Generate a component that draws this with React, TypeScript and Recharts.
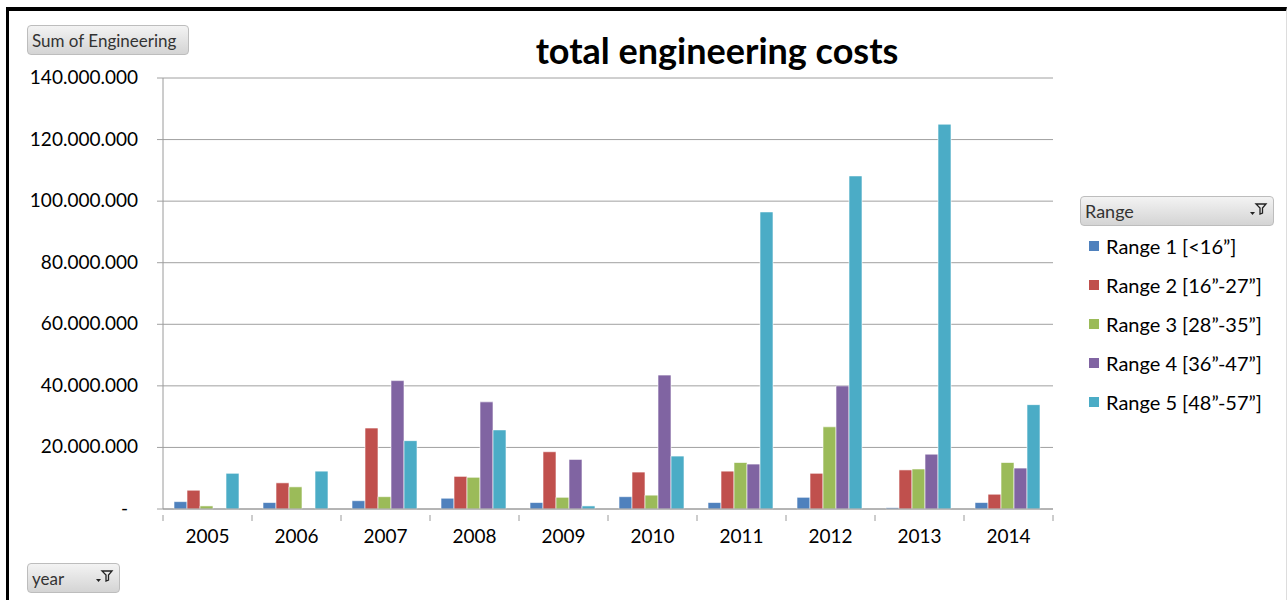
import React from 'react';
import { BarChart, Bar, XAxis, YAxis, CartesianGrid } from 'recharts';

const years = ['2005', '2006', '2007', '2008', '2009', '2010', '2011', '2012', '2013', '2014'];

const range1 = [2.4, 2.1, 2.7, 3.5, 2.1, 4.0, 2.1, 3.8, 0.4, 2.1];
const range2 = [6.1, 8.5, 26.3, 10.6, 18.6, 12.0, 12.3, 11.6, 12.7, 4.8];
const range3 = [1.0, 7.2, 4.0, 10.3, 3.8, 4.5, 15.1, 26.7, 13.0, 15.1];
const range4 = [0, 0, 41.7, 34.8, 16.1, 43.5, 14.6, 40.0, 17.8, 13.3];
const range5 = [11.6, 12.3, 22.2, 25.7, 1.0, 17.2, 96.5, 108.2, 125.0, 33.9];

const seriesNames = ['Range 1 [<16”]', 'Range 2 [16”-27”]', 'Range 3 [28”-35”]', 'Range 4 [36”-47”]', 'Range 5 [48”-57”]'];
const seriesColors = ['#4F81BD', '#C0504D', '#9BBB59', '#8064A2', '#4BACC6'];
const yTicks = [0, 20000000, 40000000, 60000000, 80000000, 100000000, 120000000, 140000000];

const seriesValues = [range1, range2, range3, range4, range5];

const data = years.map((year, i) => {
  const row: Record<string, string | number> = { year };
  seriesValues.forEach((vals, s) => {
    row['r' + s] = Math.round(vals[i] * 1000000);
  });
  return row;
});

const FONT = 'Lato, "Open Sans", sans-serif';

const fmt = (v: number) => {
  const s = String(Math.round(v));
  return s.replace(/\B(?=(\d{3})+(?!\d))/g, '.');
};

const YTick = (props: any) => {
  const { x, y, payload } = props;
  const isZero = payload.value === 0;
  return (
    <text x={isZero ? x - 10 : x} y={y} dy={6} textAnchor="end" fontSize={19} fill="#000" fontFamily={FONT}>
      {isZero ? '-' : fmt(payload.value)}
    </text>
  );
};

const XTick = (props: any) => {
  const { x, y, payload, index, width, visibleTicksCount } = props;
  const half = width && visibleTicksCount ? width / visibleTicksCount / 2 : 44.5;
  const base = y - 18;
  return (
    <g>
      <line x1={x - half} x2={x - half} y1={base} y2={base + 6} stroke="#9a9a9a" />
      {index === visibleTicksCount - 1 && (
        <line x1={x + half} x2={x + half} y1={base} y2={base + 6} stroke="#9a9a9a" />
      )}
      <text x={x} y={y} dy={10} textAnchor="middle" fontSize={19} fill="#000" fontFamily={FONT}>
        {payload.value}
      </text>
    </g>
  );
};

const buttonStyle: React.CSSProperties = {
  position: 'absolute',
  boxSizing: 'border-box',
  background: 'linear-gradient(#f3f3f3, #d4d4d4)',
  border: '1px solid #bdbdbd',
  borderRadius: 4,
  fontFamily: FONT,
  fontSize: 17,
  color: '#333',
  paddingLeft: 4,
  display: 'flex',
  alignItems: 'center',
};

const FilterIcon = () => (
  <svg width="18" height="14" style={{ position: 'absolute', right: 5, top: 6 }}>
    <path d="M0 9 L5 9 L2.5 12 Z" fill="#222" />
    <path d="M6 1 L16 1 L12.5 5 L12.5 10 L10 11 L10 5 Z" fill="none" stroke="#222" strokeWidth="1.3" />
  </svg>
);

export default function App() {
  return (
    <div style={{ position: 'absolute', left: 0, top: 0, width: 1288, height: 600, background: '#fff', overflow: 'hidden' }}>
      <div
        style={{
          position: 'absolute',
          left: 6,
          top: 7,
          width: 1281,
          height: 600,
          boxSizing: 'border-box',
          borderTop: '4px solid #000',
          borderLeft: '3px solid #000',
          borderRight: '1px solid #ddd',
        }}
      />
      <div
        style={{
          position: 'absolute',
          left: 417,
          width: 600,
          top: 25,
          textAlign: 'center',
          fontFamily: FONT,
          fontWeight: 700,
          fontSize: 36,
          color: '#000',
          lineHeight: '50px',
        }}
      >
        total engineering costs
      </div>
      <div style={{ position: 'absolute', left: 0, top: 0 }}>
        <BarChart
          width={1288}
          height={600}
          data={data}
          margin={{ top: 78, right: 235, bottom: 0, left: 0 }}
          barCategoryGap={11}
          barGap={0}
        >
          <CartesianGrid vertical={false} stroke="#a0a0a0" />
          <XAxis
            dataKey="year"
            height={91}
            tickLine={false}
            axisLine={{ stroke: '#9a9a9a' }}
            tick={<XTick />}
            tickMargin={18}
            interval={0}
          />
          <YAxis
            width={163}
            domain={[0, 140000000]}
            ticks={yTicks}
            tickSize={6}
            tickMargin={19}
            tickLine={{ stroke: '#a0a0a0' }}
            axisLine={{ stroke: '#9a9a9a' }}
            tick={<YTick />}
          />
          {seriesNames.map((name, s) => (
            <Bar
              key={name}
              dataKey={'r' + s}
              name={name}
              fill={seriesColors[s]}
              stroke="rgba(255,255,255,0.6)"
              strokeWidth={1}
              isAnimationActive={false}
            />
          ))}
        </BarChart>
      </div>
      <div style={{ ...buttonStyle, left: 27, top: 25, width: 162, height: 30 }}>Sum of Engineering</div>
      <div style={{ ...buttonStyle, left: 27, top: 563, width: 93, height: 30 }}>
        year
        <FilterIcon />
      </div>
      <div style={{ ...buttonStyle, left: 1080, top: 196, width: 194, height: 30, fontSize: 18 }}>
        Range
        <FilterIcon />
      </div>
      {seriesNames.map((name, s) => (
        <div
          key={name}
          style={{
            position: 'absolute',
            left: 1089,
            top: 233 + s * 39,
            height: 26,
            display: 'flex',
            alignItems: 'center',
            fontFamily: FONT,
            fontSize: 20,
            color: '#000',
          }}
        >
          <span style={{ width: 10, height: 10, background: seriesColors[s], display: 'inline-block', marginRight: 7 }} />
          {name}
        </div>
      ))}
    </div>
  );
}
